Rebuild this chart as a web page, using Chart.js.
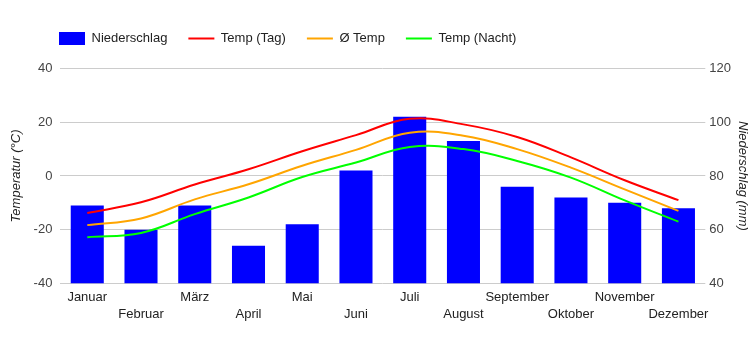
<!DOCTYPE html>
<html><head><meta charset="utf-8">
<script src="https://cdn.jsdelivr.net/npm/chart.js@4/dist/chart.umd.min.js"></script>
<style>html,body{margin:0;padding:0;background:#fff}#wrap{width:750px;height:350px}</style>
</head><body><div id="wrap"><canvas id="c"></canvas></div>
<script>
const months = ['Januar','Februar','März','April','Mai','Juni','Juli','August','September','Oktober','November','Dezember'];
const niederschlag = [69, 60, 69, 54, 62, 82, 102, 93, 76, 72, 70, 68];
const tempTag = [-13.8, -9.8, -3.2, 2.5, 9.2, 15.2, 21.3, 19.2, 14.5, 6.9, -1.6, -9.0];
const tempMittel = [-18.3, -15.8, -8.7, -3.1, 3.8, 9.7, 16.1, 15.0, 10.0, 3.1, -5.0, -13.0];
const tempNacht = [-22.8, -21.2, -14.2, -8.0, -0.4, 5.0, 10.8, 10.0, 5.6, -0.6, -9.1, -17.0];
const tempTicks = [-40, -20, 0, 20, 40];
const mmTicks = [40, 60, 80, 100, 120];

const labels = months.map((m, i) => i % 2 === 0 ? m : ['', m]);
const font = "'Liberation Sans', Arial, sans-serif";

const legendShift = {
  id: 'legendShift',
  afterLayout(chart) { chart.legend.left = 38; }
};

new Chart(document.getElementById('c'), {
  data: {
    labels: labels,
    datasets: [
      { type: 'bar', label: 'Niederschlag', data: niederschlag, yAxisID: 'y1', backgroundColor: '#0000ff',
        categoryPercentage: 1, barPercentage: 0.615, order: 1, pointStyle: 'rect', base: 40 },
      { type: 'line', label: 'Temp (Tag)', data: tempTag, yAxisID: 'y', borderColor: '#ff0000', backgroundColor: '#ff0000',
        borderWidth: 2, pointRadius: 0, tension: 0.4, order: 0, pointStyle: 'line' },
      { type: 'line', label: 'Ø Temp', data: tempMittel, yAxisID: 'y', borderColor: '#ffa500', backgroundColor: '#ffa500',
        borderWidth: 2, pointRadius: 0, tension: 0.4, order: 0, pointStyle: 'line' },
      { type: 'line', label: 'Temp (Nacht)', data: tempNacht, yAxisID: 'y', borderColor: '#00ff00', backgroundColor: '#00ff00',
        borderWidth: 2, pointRadius: 0, tension: 0.4, order: 0, pointStyle: 'line' }
    ]
  },
  options: {
    responsive: true,
    maintainAspectRatio: false,
    animation: false,
    layout: { padding: { top: 11, left: 9, right: 0, bottom: 22 } },
    plugins: {
      tooltip: { enabled: false },
      legend: {
        position: 'top', align: 'start',
        labels: { usePointStyle: true, pointStyleWidth: 26, boxHeight: 13, padding: 21,
          color: '#222', font: { family: font, size: 13 },
          sort: (a, b) => a.datasetIndex - b.datasetIndex }
      },
      subtitle: { display: true, text: '', weight: 500, padding: 0,
        font: { family: font, size: 10, lineHeight: 1.35 } }
    },
    scales: {
      x: {
        grid: { display: false, drawTicks: false },
        border: { display: false },
        ticks: { autoSkip: false, maxRotation: 0, minRotation: 0, color: '#222', padding: 5,
          font: { family: font, size: 13, lineHeight: 1.33 } }
      },
      y: {
        position: 'left', min: -40, max: 40,
        afterBuildTicks(axis) { axis.ticks = tempTicks.map(v => ({ value: v })); },
        grid: { color: '#cccccc', drawTicks: false },
        border: { display: false },
        ticks: { color: '#444', padding: 8, font: { family: font, size: 13 } },
        title: { display: true, text: 'Temperatur (°C)', color: '#222', padding: { top: 0, bottom: 1 },
          font: { family: font, size: 13, style: 'italic' } }
      },
      y1: {
        position: 'right', min: 40, max: 120,
        afterBuildTicks(axis) { axis.ticks = mmTicks.map(v => ({ value: v })); },
        grid: { display: false, drawTicks: false },
        border: { display: false },
        ticks: { color: '#444', padding: 4, font: { family: font, size: 13 } },
        title: { display: true, text: 'Niederschlag (mm)', color: '#222', padding: { top: 1, bottom: 1 },
          font: { family: font, size: 13, style: 'italic', lineHeight: 1 } }
      }
    }
  },
  plugins: [legendShift]
});
</script>
</body></html>
